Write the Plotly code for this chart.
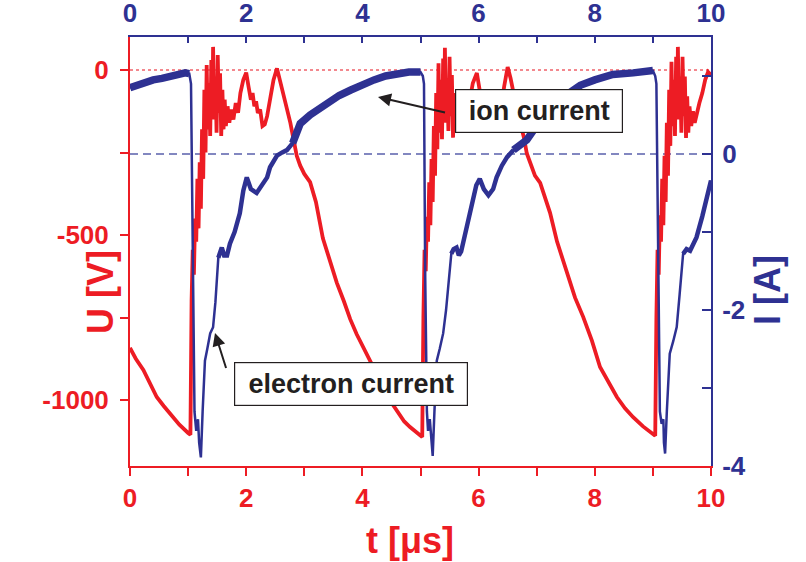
import numpy as np
import plotly.graph_objects as go

# ---------------- data ----------------
t_U = [0, 0.1, 0.23, 0.35, 0.46, 0.58, 0.69, 0.85, 1.0, 1.04,
       1.06, 1.08, 1.10, 1.12, 1.14, 1.16, 1.18, 1.20, 1.22, 1.24, 1.26, 1.28, 1.30, 1.32, 1.34, 1.36, 1.38,
       1.40, 1.42, 1.43, 1.45, 1.47, 1.49, 1.51, 1.53, 1.55, 1.57, 1.59, 1.61, 1.63, 1.65, 1.68, 1.71, 1.74,
       1.78, 1.82, 1.86, 1.90, 1.95, 2.0, 2.04, 2.08, 2.11, 2.14, 2.17, 2.2, 2.24, 2.28, 2.32, 2.36, 2.42,
       2.47, 2.53, 2.58, 2.64, 2.70, 2.76, 2.82, 2.87, 2.93, 3.0, 3.1, 3.2, 3.32, 3.44, 3.56, 3.68, 3.79,
       3.9, 4.01, 4.15, 4.3, 4.47, 4.6, 4.72, 4.82, 4.93, 5.03,
       5.05, 5.07, 5.09, 5.11, 5.13, 5.15, 5.17, 5.19, 5.21, 5.23, 5.25, 5.27, 5.29, 5.31, 5.33, 5.35, 5.37,
       5.39, 5.41, 5.42, 5.44, 5.46, 5.48, 5.50, 5.52, 5.54, 5.56, 5.58, 5.60, 5.62, 5.65, 5.68, 5.72, 5.76,
       5.80, 5.85, 5.90, 5.97, 6.01, 6.05, 6.09, 6.13, 6.17, 6.21, 6.25, 6.29, 6.33, 6.38, 6.44, 6.5, 6.55,
       6.61, 6.67, 6.73, 6.78, 6.83, 6.9, 6.97, 7.06, 7.15, 7.23, 7.35, 7.52, 7.66, 7.80, 7.95, 8.09, 8.24,
       8.38, 8.52, 8.66, 8.83, 9.0, 9.04,
       9.06, 9.08, 9.10, 9.12, 9.14, 9.16, 9.18, 9.20, 9.22, 9.24, 9.26, 9.28, 9.30, 9.32, 9.34, 9.36, 9.38,
       9.40, 9.42, 9.43, 9.45, 9.47, 9.49, 9.51, 9.53, 9.55, 9.57, 9.59, 9.61, 9.63, 9.66, 9.69, 9.72, 9.75,
       9.80, 9.85, 9.90, 9.95, 10.0]
U_V = [-842, -875, -909, -955, -991, -1018, -1040, -1075, -1100, -1105,
       -700, -545, -620, -450, -520, -330, -480, -280, -420, -180, -330, -60, -250, 15, -180, -40, -200,
       30, -120, 70, -150, -20, -190, 45, -130, -10, -200, -60, -180, -90, -170, -110, -160, -120,
       -150, -100, -130, -70, -30, -8, -50, -90, -70, -110, -95, -130, -120, -170, -165, -140, -80,
       -30, 5, -30, -80, -120, -160, -215, -260, -290, -315, -340, -400, -510, -580, -645, -700, -755,
       -800, -840, -885, -940, -1000, -1035, -1065, -1082, -1098, -1112,
       -750, -545, -610, -445, -520, -340, -470, -270, -400, -170, -320, -70, -240, 20, -190, -30, -210,
       35, -110, 67, -160, -25, -185, 40, -140, -15, -205, -70, -190, -100, -165, -115, -150, -110,
       -140, -90, -40, -9, -60, -95, -75, -115, -100, -135, -125, -175, -160, -120, -50, 9, -25,
       -85, -130, -170, -205, -253, -290, -320, -342, -390, -433, -520, -615, -690, -748, -820, -900, -950,
       -991, -1025, -1052, -1080, -1100, -1108,
       -750, -545, -620, -440, -520, -330, -470, -260, -400, -160, -320, -60, -230, 25, -170, -30, -200,
       40, -120, 70, -150, -20, -190, 40, -140, -20, -206, -80, -190, -110, -170, -125, -160, -136,
       -100, -70, -30, -6, -15]

t_I = [0, 0.1, 0.25, 0.4, 0.55, 0.7, 0.85, 0.95, 1.02, 1.05, 1.08, 1.11, 1.14, 1.17, 1.19, 1.22, 1.25,
       1.29, 1.33, 1.38, 1.43, 1.47, 1.52, 1.55, 1.58, 1.62, 1.67, 1.72, 1.8, 1.89, 1.95, 2.01, 2.08,
       2.18, 2.29, 2.36, 2.41, 2.53, 2.62, 2.70, 2.8, 2.93, 3.1, 3.25, 3.44, 3.6, 3.8, 4.01, 4.2, 4.4,
       4.59, 4.8, 5.0, 5.04,
       5.06, 5.08, 5.11, 5.13, 5.16, 5.19, 5.21, 5.24, 5.28, 5.33, 5.39, 5.44, 5.49, 5.53, 5.57, 5.62,
       5.66, 5.70, 5.8, 5.9, 5.96, 6.02, 6.09, 6.17, 6.25, 6.31, 6.4, 6.49, 6.6, 6.7, 6.83, 6.94, 7.1,
       7.3, 7.5, 7.75, 8.0, 8.31, 8.66, 9.0, 9.04,
       9.06, 9.09, 9.12, 9.15, 9.18, 9.19, 9.21, 9.24, 9.29, 9.35, 9.41, 9.46, 9.52, 9.58, 9.64, 9.7,
       9.75, 9.85, 9.93, 10.0]
I_A = [0.85, 0.88, 0.92, 0.95, 0.97, 1.0, 1.03, 1.04, 1.03, 0.9, -1.5, -3.3, -3.55, -3.4, -3.7, -3.89, -3.3,
       -2.65, -2.5, -2.3, -2.22, -1.9, -1.33, -1.28, -1.2, -1.3, -1.3, -1.15, -1.0, -0.76, -0.47, -0.3, -0.45,
       -0.5, -0.38, -0.3, -0.17, -0.02, 0.02, 0.05, 0.14, 0.39, 0.5, 0.58, 0.66, 0.75, 0.82, 0.9, 0.95, 1.0,
       1.03, 1.05, 1.05, 1.0,
       0.9, -1.5, -3.3, -3.55, -3.4, -3.7, -3.87, -3.3, -2.65, -2.5, -2.3, -2.0, -1.6, -1.28, -1.22, -1.2,
       -1.3, -1.25, -0.94, -0.6, -0.4, -0.32, -0.45, -0.53, -0.45, -0.3, -0.15, -0.04, 0.05, 0.1, 0.18, 0.3, 0.45,
       0.6, 0.75, 0.88, 0.95, 1.02, 1.04, 1.07, 1.0,
       0.9, -1.5, -3.3, -3.46, -3.4, -3.7, -3.84, -3.3, -2.56, -2.4, -2.22, -1.8, -1.28, -1.22, -1.24, -1.15,
       -1.07, -0.8, -0.55, -0.34]

x_ticks = [0, 2, 4, 6, 8, 10]
x_labels = ["0", "2", "4", "6", "8", "10"]
U_ticks = [0, -500, -1000]
U_labels = ["0", "-500", "-1000"]
I_ticks = [0, -2, -4]
I_labels = ["0", "-2", "-4"]

# ---------------- styling ----------------
RED = "#ED1C24"
BLUE = "#2E3192"
FONT = "Liberation Sans, Arial, sans-serif"
W, H = 806, 562
PL, PR, PT, PB = 130, 711, 37, 466  # plot area in page pixels
L, T = PL, PT
pw, ph = PR - PL, PB - PT
R, B = W - L - pw, H - T - ph

def px_x(p):
    return (p - PL) / pw

def px_y(p):
    return (PB - p) / ph

tI = np.array(t_I)
IA = np.array(I_A, dtype=float)

def masked(windows):
    keep = np.zeros(len(tI), bool)
    for a, b in windows:
        keep |= (tI >= a) & (tI <= b)
    return [v if k else None for v, k in zip(IA, keep)]

fig = go.Figure()
fig.add_trace(go.Scatter(x=t_U, y=U_V, mode="lines", line=dict(color=RED, width=3.8),
                         xaxis="x", yaxis="y", showlegend=False))
fig.add_trace(go.Scatter(x=t_I, y=I_A, mode="lines", line=dict(color=BLUE, width=2.5),
                         xaxis="x2", yaxis="y2", showlegend=False))
fig.add_trace(go.Scatter(x=t_I, y=masked([(1.5, 2.8), (5.53, 6.6), (9.52, 10)]), mode="lines",
                         line=dict(color=BLUE, width=4.5), xaxis="x2", yaxis="y2", showlegend=False))
fig.add_trace(go.Scatter(x=t_I, y=masked([(0, 1.02), (2.8, 5.0), (6.6, 9.0)]), mode="lines",
                         line=dict(color=BLUE, width=7.5), xaxis="x2", yaxis="y2", showlegend=False))

tickfont_r = dict(family=FONT, size=26, color=RED, weight="bold")
tickfont_b = dict(family=FONT, size=26, color=BLUE, weight="bold")

fig.update_layout(
    width=W, height=H, margin=dict(l=L, r=R, t=T, b=B, autoexpand=False),
    paper_bgcolor="white", plot_bgcolor="white",
    xaxis=dict(range=[0, 10], tickvals=x_ticks, ticktext=x_labels, ticks="outside", ticklen=8, tickwidth=2,
               tickcolor=RED, automargin=False,
               showline=True, linecolor=RED, linewidth=2, showgrid=False, zeroline=False,
               tickfont=tickfont_r, ticklabelstandoff=0,
               minor=dict(dtick=1, ticks="outside", ticklen=8, tickwidth=2, tickcolor=RED, showgrid=False)),
    xaxis2=dict(range=[0, 10], tickvals=x_ticks, ticktext=x_labels, overlaying="x", side="top", anchor="y2",
                ticks="inside", ticklen=6, tickwidth=2, tickcolor=BLUE, automargin=False,
                showline=True, linecolor=BLUE, linewidth=2, showgrid=False, zeroline=False,
                tickfont=tickfont_b, ticklabelstandoff=3,
                minor=dict(dtick=1, ticks="inside", ticklen=6, tickwidth=2, tickcolor=BLUE, showgrid=False)),
    yaxis=dict(range=[-1200, 100], tickvals=U_ticks, ticktext=U_labels, ticks="outside", ticklen=8,
               tickwidth=2, tickcolor=RED, automargin=False,
               showline=True, linecolor=RED, linewidth=2, showgrid=False, zeroline=False,
               tickfont=tickfont_r, ticklabelstandoff=6,
               minor=dict(tick0=0, dtick=250, ticks="outside", ticklen=8, tickwidth=2, tickcolor=RED,
                          showgrid=False)),
    yaxis2=dict(range=[-4, 1.5], tickvals=I_ticks, ticktext=I_labels, overlaying="y", side="right",
                anchor="x2", ticks="inside", ticklen=9, tickwidth=2, tickcolor=BLUE, automargin=False,
                showline=True, linecolor=BLUE, linewidth=2, showgrid=False, zeroline=False,
                tickfont=tickfont_b, ticklabelstandoff=4,
                minor=dict(tick0=0, dtick=1, ticks="inside", ticklen=9, tickwidth=2, tickcolor=BLUE,
                           showgrid=False)),
)

fig.add_shape(type="line", xref="x domain", yref="y", x0=0, x1=1, y0=0, y1=0, layer="below",
              line=dict(color="#F0626A", width=1.5, dash="dot"))
fig.add_shape(type="line", xref="x2 domain", yref="y2", x0=0, x1=1, y0=0, y1=0, layer="below",
              line=dict(color="#5A60AC", width=1.5, dash="8px,5px"))

C = dict(xanchor="center", yanchor="middle", xref="paper", yref="paper")
# axis titles
fig.add_annotation(text="U [V]", x=px_x(100), y=px_y(292), showarrow=False, textangle=-90,
                   font=dict(family=FONT, size=36, color=RED, weight="bold"), **C)
fig.add_annotation(text="I [A]", x=px_x(767), y=px_y(290), showarrow=False, textangle=-90,
                   font=dict(family=FONT, size=36, color=BLUE, weight="bold"), **C)
fig.add_annotation(text="t [μs]", x=px_x(410), y=px_y(540), showarrow=False,
                   font=dict(family=FONT, size=36, color=RED, weight="bold"), **C)

# labelled boxes
boxfont = dict(family=FONT, size=27, color="#231F20", weight="bold")
fig.add_annotation(text="ion current", x=px_x(539), y=px_y(110.5),
                   showarrow=False, width=162, height=38, borderpad=2, bgcolor="white",
                   bordercolor="#231F20", borderwidth=1.2, font=boxfont, **C)
fig.add_annotation(text="electron current", x=px_x(350.5), y=px_y(383.5),
                   showarrow=False, width=228, height=38, borderpad=2, bgcolor="white",
                   bordercolor="#231F20", borderwidth=1.2, font=boxfont, **C)
# arrows
fig.add_annotation(text=" ", x=px_x(378), y=px_y(97), ax=69, ay=16,
                   showarrow=True, arrowhead=2, arrowsize=1.3, arrowwidth=2, arrowcolor="#231F20",
                   font=dict(size=2), xref="paper", yref="paper")
fig.add_annotation(text=" ", x=px_x(215), y=px_y(333), ax=12, ay=38,
                   showarrow=True, arrowhead=2, arrowsize=1.3, arrowwidth=2, arrowcolor="#231F20",
                   font=dict(size=2), xref="paper", yref="paper")

fig.write_html("out.html", config={"displayModeBar": False},
               post_script="document.body.style.margin='0px';")
